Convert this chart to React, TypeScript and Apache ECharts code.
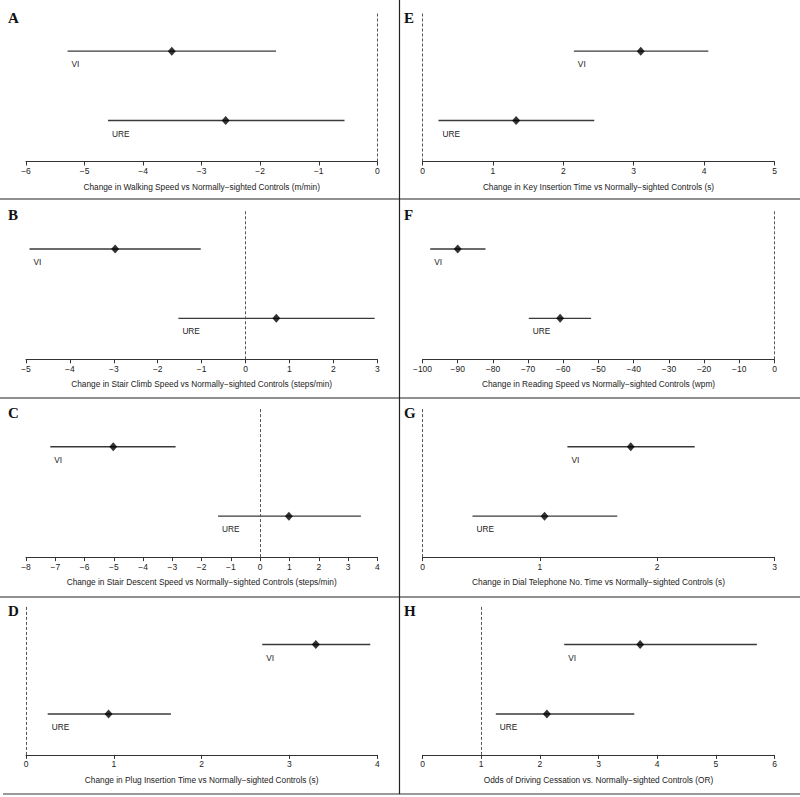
import React, { useEffect, useRef } from "react";
import * as echarts from "echarts";

// ---- Data ----
const panelLetters = ["A", "B", "C", "D", "E", "F", "G", "H"];
const axisTitles = [
  "Change in Walking Speed vs Normally\u2212sighted Controls (m/min)",
  "Change in Stair Climb Speed vs Normally\u2212sighted Controls (steps/min)",
  "Change in Stair Descent Speed vs Normally\u2212sighted Controls (steps/min)",
  "Change in Plug Insertion Time vs Normally\u2212sighted Controls (s)",
  "Change in Key Insertion Time vs Normally\u2212sighted Controls (s)",
  "Change in Reading Speed vs Normally\u2212sighted Controls (wpm)",
  "Change in Dial Telephone No. Time vs Normally\u2212sighted Controls (s)",
  "Odds of Driving Cessation vs. Normally\u2212sighted Controls (OR)",
];
const axisMin = [-6, -5, -8, 0, 0, -100, 0, 0];
const axisMax = [0, 3, 4, 4, 5, 0, 3, 6];
const axisStep = [1, 1, 1, 1, 1, 10, 1, 1];
const refLine = [0, 0, 0, 0, 0, 0, 0, 1];

const groups = ["VI", "URE"];
const viEstimate = [-3.51, -2.97, -5.02, 3.3, 3.1, -90.0, 1.775, 3.71];
const viLower = [-5.29, -4.92, -7.17, 2.69, 2.15, -97.8, 1.235, 2.415];
const viUpper = [-1.73, -1.02, -2.89, 3.92, 4.06, -82.1, 2.32, 5.7];
const ureEstimate = [-2.59, 0.7, 0.98, 0.94, 1.33, -60.9, 1.04, 2.12];
const ureLower = [-4.6, -1.53, -1.44, 0.247, 0.227, -69.8, 0.426, 1.25];
const ureUpper = [-0.56, 2.94, 3.44, 1.65, 2.44, -52.1, 1.66, 3.61];
const groupRow = [2, 1]; // vertical position of VI and URE rows

const SANS = "'Liberation Sans', Arial, Helvetica, sans-serif";
const SERIF = "'Liberation Serif', 'Times New Roman', serif";

function fmt(v: number) {
  return v < 0 ? "\u2212" + Math.abs(v) : String(v);
}

function buildOption() {
  const grids: any[] = [];
  const xAxes: any[] = [];
  const yAxes: any[] = [];
  const series: any[] = [];
  const graphics: any[] = [];

  for (let i = 0; i < 8; i++) {
    const col = i < 4 ? 0 : 1;
    const row = i % 4;
    const rowY = 51 + 197.8 * row;
    grids.push({
      left: col === 0 ? 26 : 422.5,
      width: col === 0 ? 351.3 : 352,
      top: rowY - 38,
      height: 148.5,
    });
    xAxes.push({
      type: "value",
      gridIndex: i,
      min: axisMin[i],
      max: axisMax[i],
      interval: axisStep[i],
      splitLine: { show: false },
      axisLine: { show: true, onZero: false, lineStyle: { color: "#333", width: 1 } },
      axisTick: { show: true, length: 4, lineStyle: { color: "#333", width: 1 } },
      axisLabel: {
        fontFamily: SANS,
        fontSize: 8.5,
        color: "#222",
        margin: 5,
        formatter: fmt,
      },
      name: axisTitles[i],
      nameLocation: "middle",
      nameGap: 21,
      nameTextStyle: { fontFamily: SANS, fontSize: 8.3, color: "#222" },
    });
    yAxes.push({ type: "value", gridIndex: i, min: 0.41, max: 2.55, show: false });

    const est = [viEstimate[i], ureEstimate[i]];
    const lo = [viLower[i], ureLower[i]];
    const hi = [viUpper[i], ureUpper[i]];

    // reference line
    series.push({
      type: "line",
      xAxisIndex: i,
      yAxisIndex: i,
      data: [],
      markLine: {
        silent: true,
        symbol: ["none", "none"],
        label: { show: false },
        lineStyle: { color: "#555", width: 1, type: [3, 2] },
        data: [{ xAxis: refLine[i] }],
      },
    });

    for (let g = 0; g < groups.length; g++) {
      series.push({
        type: "line",
        xAxisIndex: i,
        yAxisIndex: i,
        color: "#3a3a3a",
        data: [
          [lo[g], groupRow[g]],
          [hi[g], groupRow[g]],
        ],
        symbol: "none",
        lineStyle: { color: "#3a3a3a", width: 1.4 },
        silent: true,
      });
      series.push({
        type: "scatter",
        xAxisIndex: i,
        yAxisIndex: i,
        color: "#000",
        data: [[est[g], groupRow[g]]],
        symbol: "diamond",
        symbolSize: [8, 9],
        itemStyle: { color: "#000" },
        silent: true,
        z: 5,
      });
      series.push({
        type: "scatter",
        xAxisIndex: i,
        yAxisIndex: i,
        color: "#222",
        data: [[lo[g], groupRow[g]]],
        symbolSize: 0,
        itemStyle: { color: "#222", opacity: 0 },
        label: {
          show: true,
          position: "right",
          distance: 4,
          offset: [0, 13],
          formatter: groups[g],
          fontFamily: SANS,
          fontSize: 8.3,
          color: "#222",
          opacity: 1,
        },
        silent: true,
      });
    }

    graphics.push({
      type: "text",
      left: col === 0 ? 8 : 404,
      top: rowY - 41,
      style: {
        text: panelLetters[i],
        font: `bold 15px ${SERIF}`,
        fill: "#111",
      },
    });
  }

  // panel separators
  const sepY = [199, 398, 597];
  sepY.forEach((y) => {
    graphics.push({
      type: "line",
      shape: { x1: 0, y1: y, x2: 800, y2: y },
      style: { stroke: "#222", lineWidth: 1.2 },
    });
  });
  graphics.push({
    type: "line",
    shape: { x1: 3, y1: 794, x2: 800, y2: 794 },
    style: { stroke: "#777", lineWidth: 1.6 },
  });
  graphics.push({
    type: "line",
    shape: { x1: 399.5, y1: 0, x2: 399.5, y2: 794 },
    style: { stroke: "#222", lineWidth: 1.2 },
  });

  return {
    animation: false,
    backgroundColor: "#fff",
    grid: grids,
    xAxis: xAxes,
    yAxis: yAxes,
    series,
    graphic: graphics,
  };
}

export default function App() {
  const ref = useRef<HTMLDivElement>(null);
  useEffect(() => {
    if (!ref.current) return;
    const chart = echarts.init(ref.current, null, { renderer: "svg" });
    chart.setOption(buildOption() as any);
    return () => chart.dispose();
  }, []);
  return (
    <div
      ref={ref}
      style={{ position: "fixed", left: 0, top: 0, width: 800, height: 797, background: "#fff" }}
    />
  );
}
